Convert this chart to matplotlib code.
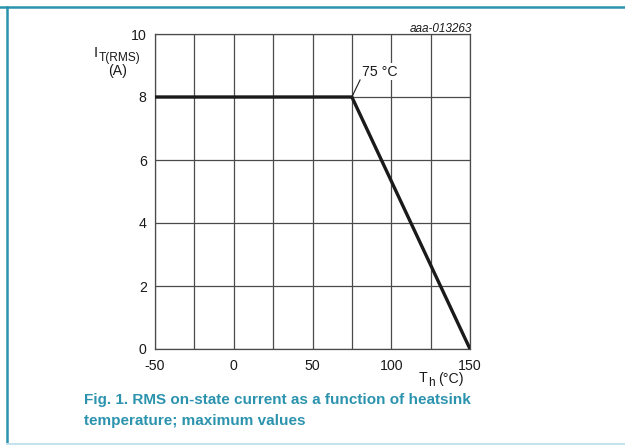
import matplotlib
matplotlib.use("Agg")
import matplotlib.pyplot as plt
from matplotlib.lines import Line2D

plt.rcParams['font.family'] = ['Liberation Sans', 'DejaVu Sans']

# derating curve: heatsink temperature vs max RMS current
temp = [-50, 75, 150]
current = [8, 8, 0]
x_ticks = [-50, 0, 50, 100, 150]
x_grid = [-50, -25, 0, 25, 50, 75, 100, 125, 150]
y_ticks = [0, 2, 4, 6, 8, 10]
knee_label = '75 °C'
fig_id = 'aaa-013263'
caption = ('Fig. 1. RMS on-state current as a function of heatsink\n'
           'temperature; maximum values')

teal = '#2b93ad'
ink = '#1a1a1a'
W, H = 625, 445

fig = plt.figure(figsize=(6.25, 4.45), dpi=100)
ax = fig.add_axes([155 / W, (H - 349) / H, 315 / W, 315 / H])

for xv in x_grid:
    ax.axvline(xv, color='#4a4a4a', lw=0.9, zorder=1)
for yv in y_ticks:
    ax.axhline(yv, color='#4a4a4a', lw=0.9, zorder=1)

ax.plot(temp, current, color=ink, lw=2.4, zorder=3, solid_joinstyle='miter')

ax.set_xlim(-50, 150)
ax.set_ylim(0, 10)
ax.set_xticks(x_ticks)
ax.set_xticklabels(['-50', '0', '50', '100', '150'])
ax.set_yticks(y_ticks)
ax.tick_params(length=0, labelsize=10.2, colors=ink, pad=6)
ax.tick_params(axis='x', pad=7)
for s in ax.spines.values():
    s.set_color('#4a4a4a')
    s.set_linewidth(0.9)

# knee annotation with a short leader
ax.plot([75, 80.2], [8, 8.54], color=ink, lw=0.8, zorder=4)
ax.text(81.4, 8.8, knee_label, fontsize=10.2, ha='left', va='center',
        color=ink, zorder=4, bbox=dict(fc='white', ec='none', pad=1))

ax.text(1.006, 1.017, fig_id, transform=ax.transAxes, ha='right', va='center',
        fontsize=8.5, style='italic', color=ink)

# y axis label: I with subscript T(RMS), unit below
fig.text(94 / W, 1 - 53 / H, 'I', ha='left', va='center', fontsize=10.5, color=ink)
fig.text(99 / W, 1 - 58 / H, 'T(RMS)', ha='left', va='center', fontsize=8.6, color=ink)
fig.text(118 / W, 1 - 71 / H, '(A)', ha='center', va='center', fontsize=10.2, color=ink)

# x axis label: T with subscript h
fig.text(418.5 / W, 1 - 378.5 / H, 'T', ha='left', va='center', fontsize=10.2, color=ink)
fig.text(428.5 / W, 1 - 382.5 / H, 'h', ha='left', va='center', fontsize=8.6, color=ink)
fig.text(463.5 / W, 1 - 378.5 / H, '(°C)', ha='right', va='center', fontsize=10.2, color=ink)

fig.text(84 / W, 1 - 410.5 / H, caption, ha='left', va='center', fontsize=11,
         fontweight='bold', color=teal, linespacing=1.7)

# frame lines
fig.add_artist(Line2D([0, 1], [1 - 6.5 / H, 1 - 6.5 / H], color=teal, lw=1.8))
fig.add_artist(Line2D([6.5 / W, 6.5 / W], [1 - 6.5 / H, 0], color=teal, lw=1.8))
fig.add_artist(Line2D([6.5 / W, 1], [1.5 / H, 1.5 / H], color='#c5e3ec', lw=1.5))

fig.savefig('out.png', dpi=100)
